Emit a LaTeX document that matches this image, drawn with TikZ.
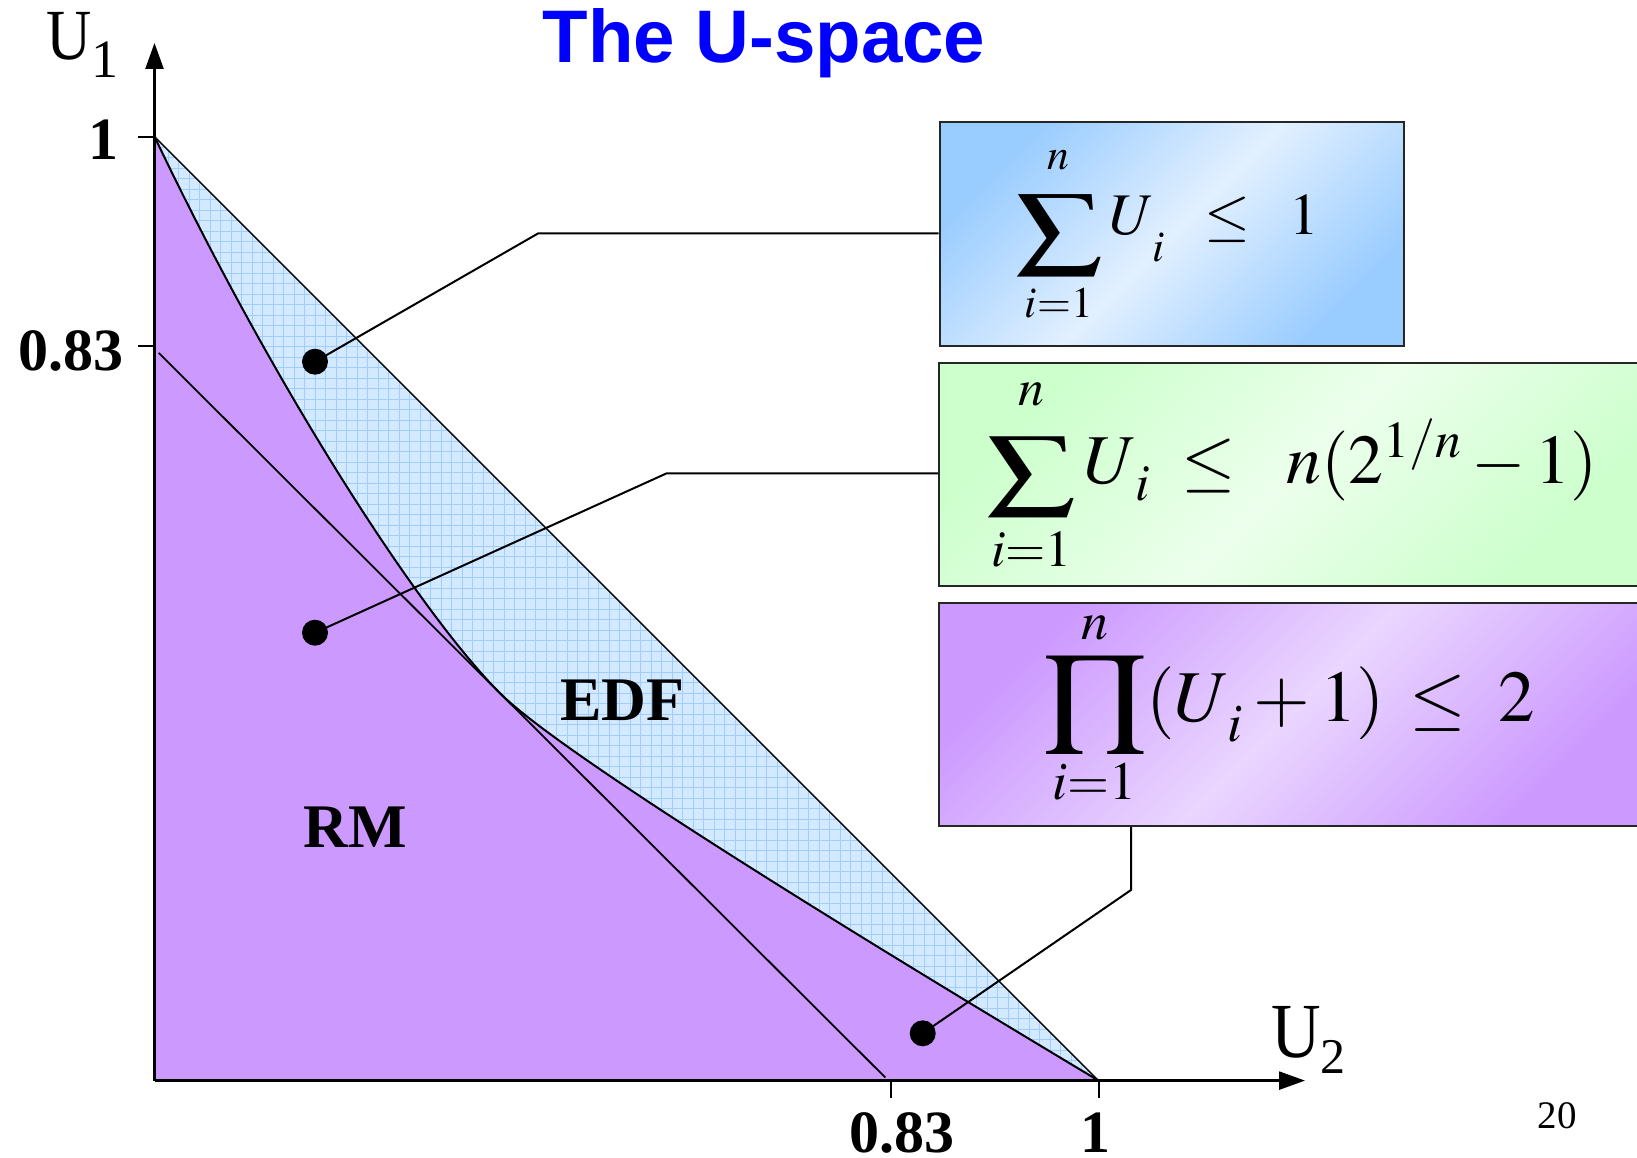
\documentclass[tikz,border=0pt]{standalone}
\usepackage{amsmath}
\usepackage{mathptmx}
\usepackage[no-math]{fontspec}
\setmainfont{Liberation Serif}
\newfontfamily\arialfont{Liberation Sans}
\usetikzlibrary{arrows.meta}
\definecolor{purp}{RGB}{204,153,255}
\definecolor{edffill}{RGB}{210,233,255}
\definecolor{edfgrid}{RGB}{160,205,255}
\definecolor{bluec}{RGB}{153,204,255}
\definecolor{bluem}{RGB}{226,240,255}
\definecolor{greenc}{RGB}{204,255,204}
\definecolor{greenm}{RGB}{236,255,236}
\definecolor{purpc}{RGB}{204,153,255}
\definecolor{purpm}{RGB}{234,214,255}
\definecolor{titleblue}{RGB}{0,0,255}
\newcommand{\lsub}[2]{\lower#1\hbox{$\scriptstyle #2$}}
\newcommand{\opbox}[4]{\mathop{\lower#4\hbox{$\vcenter{\hbox{\scalebox{#2}[#3]{$\displaystyle#1$}}}$}}\limits}
\begin{document}
\begin{tikzpicture}[x=1pt,y=-1pt,
  axis/.style={line width=2.5pt,-{Triangle[length=26pt,width=18pt]}},
  tickmark/.style={line width=2pt},
  conn/.style={line width=2pt},
  dot/.style={circle,fill=black,inner sep=0pt,minimum size=26pt},
  fbox/.style={draw=black!85,line width=2pt,inner sep=0pt,anchor=north west,
    minimum height=223.5pt},
  ticklab/.style={inner sep=0pt,font=\fontsize{60}{70}\selectfont\bfseries},
  reglab/.style={inner sep=0pt,anchor=base,font=\fontsize{62}{70}\selectfont\bfseries},
  formula/.style={inner sep=0pt,anchor=base}]
\useasboundingbox (0,0) rectangle (1637,1158);
\fill[white] (0,0) rectangle (1637,1158);

\coordinate (O) at (154.5,1080.6);
\coordinate (Y1) at (154.5,136.6);
\coordinate (X1) at (1098.5,1080.6);
\coordinate (T) at (500,693.2);
\coordinate (Ytip) at (154.5,43);
\coordinate (Xtip) at (1305,1080.6);
\coordinate (L1) at (158.7,352.9);
\coordinate (L2) at (885.3,1077.5);

% EDF region (hatched blue)
\begin{scope}
  \clip (O) -- (Y1) -- (X1) -- cycle;
  \fill[edffill] (140,120) rectangle (1110,1090);
  \draw[edfgrid,line width=0.9pt,step=10.5pt] (140,120) grid (1110,1090);
\end{scope}

% RM region
\fill[purp] (O) -- (Y1) .. controls (274.5,388.6) and (420,613.2) .. (T)
   .. controls (570,763.2) and (948.5,990.6) .. (X1) -- cycle;
\draw[line width=2pt] (Y1) .. controls (274.5,388.6) and (420,613.2) .. (T)
   .. controls (570,763.2) and (948.5,990.6) .. (X1);
\draw[line width=1.4pt] (Y1) -- (X1);
\draw[line width=1.8pt] (L1) -- (L2);

% axes
\draw[axis] (O) -- (Ytip);
\draw[axis] (O) -- (Xtip);
\draw[tickmark] (138,136.6) -- (Y1);
\draw[tickmark] (138,346) -- (154.5,346);
\draw[tickmark] (890.7,1080.6) -- (890.7,1098);
\draw[tickmark] (X1) -- (1098.5,1098);

% axis labels
\node[inner sep=0pt,anchor=base west] (u1) at (46,60)
  {\fontsize{72}{80}\selectfont\scalebox{0.87}[1]{U}\raisebox{-18pt}{\fontsize{54}{60}\selectfont 1}};
\node[inner sep=0pt,anchor=base west] (u2) at (1271,1057)
  {\fontsize{78}{80}\selectfont\scalebox{0.88}[1]{U}\raisebox{-16pt}{\fontsize{50}{60}\selectfont 2}};
\node[ticklab,anchor=base east] (t1y) at (119,160) {1};
\node[ticklab,anchor=base east] (t83y) at (124,370) {0.83};
\node[ticklab,anchor=base] (t83x) at (901.5,1152) {0.83};
\node[ticklab,anchor=base] (t1x) at (1095.5,1152) {1};

% title and page number
\node[inner sep=0pt,anchor=base,text=titleblue,
  font=\fontsize{74.5}{80}\selectfont\arialfont\bfseries] (title) at (764,63) {The U-space};
\node[inner sep=0pt,anchor=base,font=\fontsize{39}{44}\selectfont] (pg) at (1557,1128) {20};

% region labels
\node[reglab] (edf) at (622.5,720) {EDF};
\node[reglab] (rm) at (355,847) {RM};

% boxes
\node[fbox,minimum width=464.5pt,shade,top color=bluec,bottom color=bluec,middle color=bluem,shading angle=45] (b1) at (938.5,121.5) {};
\node[fbox,minimum width=704pt,shade,top color=greenc,bottom color=greenc,middle color=greenm,shading angle=45] (b2) at (938,361.5) {};
\node[fbox,minimum width=704pt,shade,top color=purpc,bottom color=purpc,middle color=purpm,shading angle=45] (b3) at (938,601.5) {};

\node[formula,font=\fontsize{59}{70}\selectfont] (f1) at (1167,235)
  {$\opbox{\sum}{1.45}{1.11}{15pt}_{\rule{0pt}{32pt}i=1}^{\rule[-19pt]{0pt}{0pt}n}U_{\,\lsub{18pt}{i}}\;\;\le\;\;1$};
\node[formula,font=\fontsize{70}{80}\selectfont] (f2) at (1292,483.3)
  {$\opbox{\sum}{1.25}{0.92}{11pt}_{\rule{0pt}{38pt}i=1}^{\rule[-24pt]{0pt}{0pt}n}U_{\mkern2mu\lsub{7pt}{i}}\;\le\;\mkern5mu n(2^{1/n}-1)$};
\node[formula,font=\fontsize{73}{80}\selectfont] (f3) at (1289,721.7)
  {$\opbox{\prod}{1.19}{1.07}{0pt}_{\rule{0pt}{36pt}i=1}^{\rule[-8pt]{0pt}{0pt}n}(U_{\,\lsub{9pt}{i}}+1)\,\le\;2$};

% dots and connectors
\node[dot] (d1) at (315,361.7) {};
\node[dot] (d2) at (315,632.7) {};
\node[dot] (d3) at (922.7,1033.3) {};
\coordinate (k1) at (538.3,233.3);
\coordinate (k2) at (666.7,473.3);
\coordinate (k3) at (1131,890);
\draw[conn] (d1.center) -- (k1) -- (b1.west |- k1);
\draw[conn] (d2.center) -- (k2) -- (b2.west |- k2);
\draw[conn] (d3.center) -- (k3) -- (b3.south -| k3);
\end{tikzpicture}
\end{document}
